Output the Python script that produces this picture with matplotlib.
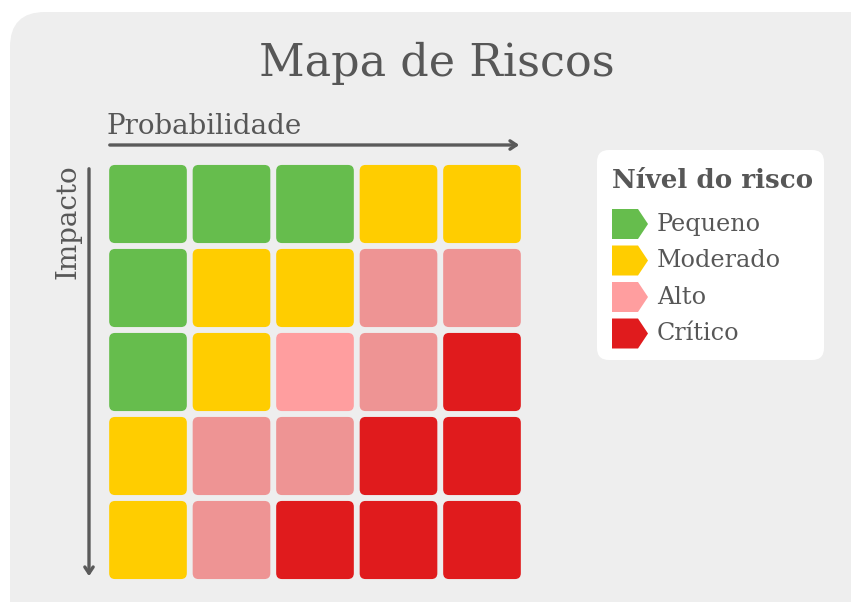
import matplotlib
matplotlib.use("Agg")
import matplotlib.pyplot as plt
from matplotlib.patches import FancyBboxPatch, Polygon

# risk matrix (top row = highest impact), columns = probability
risk_grid = [
    ["Pequeno", "Pequeno", "Pequeno", "Moderado", "Moderado"],
    ["Pequeno", "Moderado", "Moderado", "Alto", "Alto"],
    ["Pequeno", "Moderado", "Alto*", "Alto", "Crítico"],
    ["Moderado", "Alto", "Alto", "Crítico", "Crítico"],
    ["Moderado", "Alto", "Crítico", "Crítico", "Crítico"],
]
levels = ["Pequeno", "Moderado", "Alto", "Crítico"]
level_colors = {"Pequeno": "#66bd4d", "Moderado": "#ffcd00", "Alto": "#ee9494",
                "Alto*": "#ff9e9f", "Crítico": "#e01b1d"}
legend_colors = {"Pequeno": "#66bd4d", "Moderado": "#ffcd00", "Alto": "#ff9e9f",
                 "Crítico": "#e01b1d"}
title = "Mapa de Riscos"
x_label = "Probabilidade"
y_label = "Impacto"
legend_title = "Nível do risco"

txt = "#575757"
font = "DejaVu Serif"

fig = plt.figure(figsize=(8.51, 6.02), dpi=100, facecolor="white")

# background axes in pixel coords
bg = fig.add_axes([0, 0, 1, 1])
bg.set_xlim(0, 851)
bg.set_ylim(602, 0)
bg.axis("off")
bg.add_patch(FancyBboxPatch((10, 12), 880, 640, boxstyle="round,pad=0,rounding_size=35",
                            fc="#eeeeee", ec="none"))

bg.text(437, 63, title, ha="center", va="center", fontsize=32, color=txt, family=font)
bg.text(107, 126, x_label, ha="left", va="center", fontsize=20, color=txt, family=font)
bg.text(68, 164, y_label, ha="center", va="top", rotation=90, fontsize=20, color=txt, family=font)
bg.annotate("", xy=(522, 145), xytext=(107, 145),
            arrowprops=dict(arrowstyle="->,head_length=0.45,head_width=0.3", lw=2.4, color="#5a5a5a"))
bg.annotate("", xy=(89, 579), xytext=(89, 166),
            arrowprops=dict(arrowstyle="->,head_length=0.45,head_width=0.3", lw=2.4, color="#5a5a5a"))

# legend
bg.add_patch(FancyBboxPatch((597, 150), 227, 210, boxstyle="round,pad=0,rounding_size=12",
                            fc="white", ec="none"))
bg.text(612, 180, legend_title, ha="left", va="center", fontsize=18.8, fontweight="bold",
        color=txt, family=font)
for i, lvl in enumerate(levels):
    yc = 224 + i * 36.5
    bg.add_patch(Polygon([(612, yc - 15), (638, yc - 15), (648, yc), (638, yc + 15), (612, yc + 15)],
                         closed=True, fc=legend_colors[lvl], ec="none"))
    bg.text(657, yc, lvl, ha="left", va="center", fontsize=17.2, color=txt, family=font)

# grid axes
ax = fig.add_axes([106.25 / 851, (602 - 582) / 602, 417.5 / 851, 420 / 602])
ax.set_xlim(0, 5)
ax.set_ylim(5, 0)
ax.axis("off")
gap = 0.035
for r, row in enumerate(risk_grid):
    for c, lvl in enumerate(row):
        ax.add_patch(FancyBboxPatch((c + gap, r + gap), 1 - 2 * gap, 1 - 2 * gap,
                                    boxstyle="round,pad=0,rounding_size=0.07",
                                    fc=level_colors[lvl], ec="none"))

fig.savefig("out.png", dpi=100, facecolor="white")
